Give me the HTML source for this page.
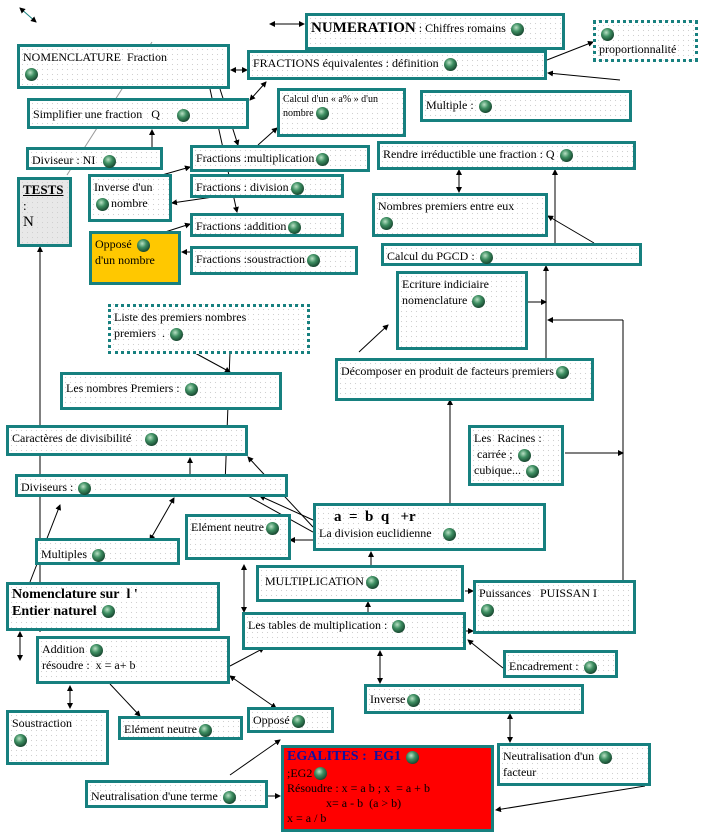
<!DOCTYPE html>
<html><head><meta charset="utf-8"><style>
body{margin:0;width:704px;height:837px;position:relative;background:#fff;font-family:"Liberation Serif",serif;font-size:12px;color:#000;overflow:hidden}
.x{position:absolute;box-sizing:border-box;border:3px solid #17807f;background-color:#fff;background-image:radial-gradient(#d0d0d0 0.6px,transparent 0.8px);background-size:5px 5px;padding:2px 3px;line-height:1.35;white-space:nowrap}
.d{border:3px dotted #17807f}
.b{display:inline-block;width:13px;height:13px;border-radius:50%;background:radial-gradient(circle at 40% 35%,#b9e0c4 0,#3e8f62 35%,#123c28 80%);vertical-align:middle;margin:0 2px}
svg{position:absolute;left:0;top:0}
</style></head><body>
<svg width="704" height="837">
<defs><marker id="a" markerWidth="6" markerHeight="6" refX="5" refY="3" orient="auto"><path d="M0,0L6,3L0,6z" fill="#000"/></marker>
<marker id="s" markerWidth="6" markerHeight="6" refX="1" refY="3" orient="auto"><path d="M6,0L0,3L6,6z" fill="#000"/></marker></defs>
<g stroke="#000" stroke-width="1" fill="none" marker-end="url(#a)">
<line x1="20" y1="8" x2="36" y2="22" stroke="#17807f" marker-start="url(#s)"/>
<line x1="270" y1="24" x2="304" y2="24" marker-start="url(#s)"/>
<line x1="547" y1="60" x2="593" y2="42"/>
<line x1="231" y1="70" x2="247" y2="70" marker-start="url(#s)"/>
<line x1="250" y1="100" x2="266" y2="82" marker-start="url(#s)"/>
<line x1="152" y1="147" x2="152" y2="130"/>
<line x1="258" y1="145" x2="277" y2="128"/>
<line x1="220" y1="89" x2="238" y2="145"/>
<line x1="210" y1="89" x2="237" y2="212"/>
<line x1="162" y1="175" x2="190" y2="167"/>
<line x1="220" y1="196" x2="172" y2="203"/>
<line x1="162" y1="233" x2="190" y2="224"/>
<line x1="190" y1="252" x2="182" y2="252"/>
<line x1="620" y1="80" x2="548" y2="73"/>
<line x1="459" y1="170" x2="459" y2="192" marker-start="url(#s)"/>
<line x1="555" y1="243" x2="555" y2="170"/>
<line x1="594" y1="243" x2="548" y2="216"/>
<line x1="546" y1="359" x2="546" y2="266"/>
<line x1="500" y1="302" x2="546" y2="302"/>
<line x1="623" y1="320" x2="548" y2="320"/>
<line x1="359" y1="352" x2="388" y2="325"/>
<line x1="450" y1="503" x2="450" y2="400"/>
<line x1="565" y1="453" x2="623" y2="453"/>
<line x1="371" y1="565" x2="371" y2="552"/>
<line x1="465" y1="591" x2="473" y2="591"/>
<line x1="466" y1="631" x2="473" y2="631"/>
<line x1="368" y1="612" x2="368" y2="602"/>
<line x1="503" y1="668" x2="468" y2="640"/>
<line x1="313" y1="520" x2="260" y2="496"/>
<line x1="313" y1="527" x2="248" y2="457"/>
<line x1="313" y1="532" x2="210" y2="475"/>
<line x1="313" y1="540" x2="290" y2="540"/>
<line x1="230" y1="666" x2="264" y2="648"/>
<line x1="230" y1="676" x2="276" y2="708" marker-start="url(#s)"/>
<line x1="230" y1="775" x2="280" y2="740"/>
<line x1="268" y1="796" x2="280" y2="796"/>
<line x1="645" y1="786" x2="496" y2="810"/>
<line x1="510" y1="714" x2="510" y2="742" marker-start="url(#s)"/>
<line x1="380" y1="651" x2="380" y2="683" marker-start="url(#s)"/>
<line x1="244" y1="565" x2="244" y2="612" marker-start="url(#s)"/>
<line x1="40" y1="632" x2="40" y2="247"/>
<line x1="30" y1="582" x2="60" y2="505"/>
<line x1="150" y1="540" x2="174" y2="498" marker-start="url(#s)"/>
<line x1="70" y1="686" x2="70" y2="708" marker-start="url(#s)"/>
<line x1="110" y1="684" x2="140" y2="716"/>
<line x1="20" y1="632" x2="20" y2="660" marker-start="url(#s)"/>
<line x1="230" y1="352" x2="225" y2="485"/>
<line x1="195" y1="353" x2="230" y2="372"/>
<line x1="190" y1="474" x2="190" y2="458"/>
</g>
<line x1="152" y1="42" x2="67" y2="175" stroke="#999" stroke-width="1"/>
<line x1="623" y1="580" x2="623" y2="320" stroke="#000"/>
</svg>
<div class="x" style="left:305px;top:13px;width:260px;height:37px"><b style="font-size:15px">NUMERATION</b> : Chiffres romains <span class="b"></span></div>
<div class="x d" style="left:593px;top:20px;width:105px;height:42px"><span class="b"></span><br>proportionnalité</div>
<div class="x" style="left:17px;top:44px;width:213px;height:45px">NOMENCLATURE&nbsp; Fraction<br><span class="b"></span></div>
<div class="x" style="left:247px;top:50px;width:300px;height:30px">FRACTIONS équivalentes : définition <span class="b"></span></div>
<div class="x" style="left:27px;top:98px;width:222px;height:31px;padding-top:5px">Simplifier une fraction&nbsp;&nbsp; Q &nbsp;&nbsp;&nbsp;&nbsp;<span class="b"></span></div>
<div class="x" style="left:277px;top:88px;width:129px;height:49px;font-size:10px">Calcul d'un « a% » d'un<br>nombre<span class="b"></span></div>
<div class="x" style="left:420px;top:90px;width:212px;height:32px;padding-top:4px">Multiple : <span class="b"></span></div>
<div class="x" style="left:26px;top:147px;width:137px;height:23px">Diviseur : NI &nbsp;<span class="b"></span></div>
<div class="x" style="left:190px;top:145px;width:180px;height:27px">Fractions :multiplication<span class="b"></span></div>
<div class="x" style="left:377px;top:141px;width:259px;height:29px">Rendre irréductible une fraction : Q <span class="b"></span></div>
<div class="x" style="left:17px;top:177px;width:55px;height:70px;background-color:#e8e8e8;font-size:13px;line-height:1.2"><b><u>TESTS</u></b><br>:<br><span style="font-size:15px">N</span></div>
<div class="x" style="left:88px;top:174px;width:84px;height:48px">Inverse d'un<br><span class="b"></span>nombre</div>
<div class="x" style="left:190px;top:174px;width:154px;height:24px">Fractions : division<span class="b"></span></div>
<div class="x" style="left:372px;top:193px;width:176px;height:44px">Nombres premiers entre eux<br><span class="b"></span></div>
<div class="x" style="left:190px;top:213px;width:154px;height:24px">Fractions :addition<span class="b"></span></div>
<div class="x" style="left:89px;top:231px;width:92px;height:54px;background:#ffc800">Opposé <span class="b"></span><br>d'un nombre</div>
<div class="x" style="left:190px;top:246px;width:168px;height:29px">Fractions :soustraction<span class="b"></span></div>
<div class="x" style="left:381px;top:243px;width:261px;height:23px">Calcul du PGCD : <span class="b"></span></div>
<div class="x" style="left:396px;top:271px;width:132px;height:79px">Ecriture indiciaire<br>nomenclature <span class="b"></span></div>
<div class="x d" style="left:108px;top:304px;width:202px;height:50px">Liste des premiers nombres<br>premiers&nbsp; . <span class="b"></span></div>
<div class="x" style="left:60px;top:372px;width:222px;height:38px;padding-top:5px">Les nombres Premiers : <span class="b"></span></div>
<div class="x" style="left:335px;top:358px;width:259px;height:43px">Décomposer en produit de facteurs premiers<span class="b"></span></div>
<div class="x" style="left:6px;top:425px;width:242px;height:31px">Caractères de divisibilité &nbsp;&nbsp;&nbsp;<span class="b"></span></div>
<div class="x" style="left:468px;top:425px;width:96px;height:61px">Les&nbsp; Racines :<br>&nbsp;carrée ; <span class="b"></span><br>cubique... <span class="b"></span></div>
<div class="x" style="left:15px;top:474px;width:273px;height:23px">Diviseurs : <span class="b"></span></div>
<div class="x" style="left:313px;top:503px;width:233px;height:48px;line-height:1.2"><b style="font-size:15px">&nbsp;&nbsp;&nbsp;&nbsp;a&nbsp; =&nbsp; b&nbsp; q&nbsp;&nbsp; +r</b><br>La division euclidienne &nbsp;&nbsp;<span class="b"></span></div>
<div class="x" style="left:185px;top:514px;width:106px;height:46px">Elément neutre<span class="b"></span></div>
<div class="x" style="left:35px;top:538px;width:145px;height:27px;padding-top:5px">Multiples <span class="b"></span></div>
<div class="x" style="left:256px;top:565px;width:208px;height:37px;padding-top:5px">&nbsp;MULTIPLICATION<span class="b"></span></div>
<div class="x" style="left:6px;top:582px;width:214px;height:49px;font-size:14px;line-height:1.2"><b>Nomenclature sur&nbsp; l '<br>Entier naturel</b> <span class="b"></span></div>
<div class="x" style="left:473px;top:580px;width:163px;height:54px">Puissances&nbsp;&nbsp; PUISSAN I<br><span class="b"></span></div>
<div class="x" style="left:242px;top:612px;width:224px;height:38px">Les tables de multiplication : <span class="b"></span></div>
<div class="x" style="left:36px;top:636px;width:194px;height:48px">Addition <span class="b"></span><br>résoudre :&nbsp; x = a+ b</div>
<div class="x" style="left:503px;top:650px;width:115px;height:28px;padding-top:5px">Encadrement : <span class="b"></span></div>
<div class="x" style="left:364px;top:684px;width:220px;height:30px;padding-top:4px">Inverse<span class="b"></span></div>
<div class="x" style="left:6px;top:710px;width:103px;height:55px">Soustraction<br><span class="b"></span></div>
<div class="x" style="left:118px;top:716px;width:125px;height:24px">Elément neutre<span class="b"></span></div>
<div class="x" style="left:247px;top:707px;width:87px;height:26px">Opposé<span class="b"></span></div>
<div class="x" style="left:281px;top:745px;width:213px;height:87px;background:#ff0000;line-height:1.25;padding-top:0"><b style="font-size:14px;color:#1010a0">EGALITES :&nbsp; EG1</b> <span class="b"></span><br>;EG2<span class="b"></span><br>Résoudre : x = a b ; x&nbsp; = a + b<br>&nbsp;&nbsp;&nbsp;&nbsp;&nbsp;&nbsp;&nbsp;&nbsp;&nbsp;&nbsp;&nbsp;&nbsp; x= a - b&nbsp; (a &gt; b)<br>x = a / b</div>
<div class="x" style="left:497px;top:743px;width:154px;height:43px">Neutralisation d'un <span class="b"></span><br>facteur</div>
<div class="x" style="left:85px;top:780px;width:183px;height:28px;padding-top:5px">Neutralisation d'une terme <span class="b"></span></div>
</body></html>
